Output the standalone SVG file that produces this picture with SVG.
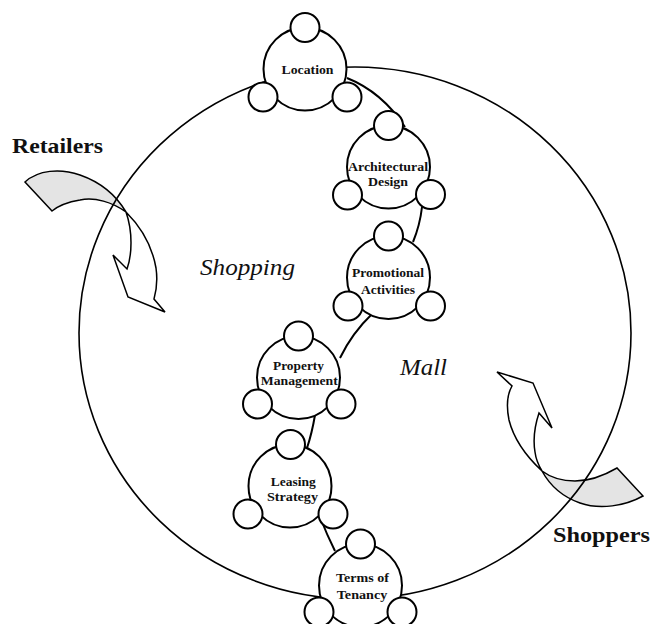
<svg xmlns="http://www.w3.org/2000/svg" width="653" height="624" viewBox="0 0 653 624">
<defs>
<style>
.bg{fill:#ffffff}
.ring{fill:none;stroke:#000;stroke-width:1.6}
.conn{fill:none;stroke:#000;stroke-width:2}
.main{fill:#fff;stroke:#000;stroke-width:2}
.sm{fill:#fff;stroke:#000;stroke-width:2}
.arw{fill:#fff;stroke:#000;stroke-width:1.5;stroke-linejoin:miter}
.arg{fill:#e4e4e4;stroke:#000;stroke-width:1.5}
.lbl{font-family:"Liberation Serif","Times New Roman",serif;font-weight:bold;font-size:13.5px;fill:#111;text-anchor:middle}
.big{font-family:"Liberation Serif","Times New Roman",serif;font-weight:bold;font-size:21px;fill:#111}
.it{font-family:"Liberation Serif","Times New Roman",serif;font-style:italic;font-size:24px;fill:#111}
</style>
</defs>
<rect class="bg" x="0" y="0" width="653" height="624"/>
<g id="retailers-arrow">
<path class="arw" d="M126,212 C140,226 152,245 156,268 C158,282 156,292 154,299 L165,312 L128,297 L113,255 L127,269 C132,255 133,232 126,212 Z"/>
<path class="arg" d="M25,182 C38,170 60,168 80,175 C100,182 116,195 126,212 C112,202 95,197 80,200 C68,202 58,206 52,211 Z"/>
</g>
<g id="shoppers-arrow">
<path class="arw" d="M542,471 C528,458 514,440 509,420 C506,405 508,393 512,386 L497,372 L533,383 L552,428 L539,413 C535,425 533,440 535,452 C536,460 539,466 542,471 Z"/>
<path class="arg" d="M617,468 C605,475 590,481 575,481 C562,481 550,477 542,471 C548,482 560,496 580,503 C600,510 625,506 643,496 Z"/>
</g>
<g id="mall-ring">
<ellipse class="ring" cx="355" cy="333" rx="276" ry="266"/>
</g>
<g id="connectors">
<path class="conn" d="M347,78 Q382,92 405,127"/>
<path class="conn" d="M422,207 Q420,225 413,242"/>
<path class="conn" d="M373,313 Q352,333 340,358"/>
<path class="conn" d="M315,415 Q312,433 307,448"/>
<path class="conn" d="M320,517 Q327,535 335,551"/>
</g>
<g id="node-location">
<circle class="main" cx="305" cy="69" r="41.5"/>
<circle class="sm" cx="305" cy="27.5" r="14.5"/>
<circle class="sm" cx="263" cy="97" r="14.5"/>
<circle class="sm" cx="347" cy="97" r="14.5"/>
<text class="lbl" x="307.5" y="74" textLength="52" lengthAdjust="spacingAndGlyphs">Location</text>
</g>
<g id="node-architectural">
<circle class="main" cx="388.5" cy="167" r="41.5"/>
<circle class="sm" cx="388.5" cy="125.5" r="14.5"/>
<circle class="sm" cx="347.5" cy="195" r="14.5"/>
<circle class="sm" cx="430.5" cy="194.5" r="14.5"/>
<text class="lbl" x="388" y="170.5" textLength="80" lengthAdjust="spacingAndGlyphs">Architectural</text>
<text class="lbl" x="388" y="186" textLength="40" lengthAdjust="spacingAndGlyphs">Design</text>
</g>
<g id="node-promotional">
<circle class="main" cx="388.5" cy="277.5" r="41.5"/>
<circle class="sm" cx="388.5" cy="236" r="14.5"/>
<circle class="sm" cx="348" cy="306" r="14.5"/>
<circle class="sm" cx="430.5" cy="306" r="14.5"/>
<text class="lbl" x="388" y="276.5" textLength="72" lengthAdjust="spacingAndGlyphs">Promotional</text>
<text class="lbl" x="388" y="294" textLength="54" lengthAdjust="spacingAndGlyphs">Activities</text>
</g>
<g id="node-property">
<circle class="main" cx="298.5" cy="377.5" r="41.5"/>
<circle class="sm" cx="298.5" cy="336" r="14.5"/>
<circle class="sm" cx="257.5" cy="404" r="14.5"/>
<circle class="sm" cx="341" cy="404" r="14.5"/>
<text class="lbl" x="298.5" y="370" textLength="51" lengthAdjust="spacingAndGlyphs">Property</text>
<text class="lbl" x="299.3" y="385" textLength="77" lengthAdjust="spacingAndGlyphs">Management</text>
</g>
<g id="node-leasing">
<circle class="main" cx="290" cy="486" r="41.5"/>
<circle class="sm" cx="290.5" cy="444.5" r="14.5"/>
<circle class="sm" cx="248" cy="514" r="14.5"/>
<circle class="sm" cx="333" cy="514" r="14.5"/>
<text class="lbl" x="293.3" y="486" textLength="45" lengthAdjust="spacingAndGlyphs">Leasing</text>
<text class="lbl" x="292.5" y="501" textLength="51" lengthAdjust="spacingAndGlyphs">Strategy</text>
</g>
<g id="node-terms">
<circle class="main" cx="360.5" cy="585.5" r="41.5"/>
<circle class="sm" cx="360.5" cy="544" r="14.5"/>
<circle class="sm" cx="319" cy="612" r="14.5"/>
<circle class="sm" cx="402" cy="612" r="14.5"/>
<text class="lbl" x="362.5" y="582" textLength="53" lengthAdjust="spacingAndGlyphs">Terms of</text>
<text class="lbl" x="362" y="599" textLength="50.5" lengthAdjust="spacingAndGlyphs">Tenancy</text>
</g>
<g id="labels">
<text class="big" x="12" y="153" textLength="91" lengthAdjust="spacingAndGlyphs">Retailers</text>
<text class="big" x="553" y="541.5" textLength="97" lengthAdjust="spacingAndGlyphs">Shoppers</text>
<text class="it" x="200" y="275" textLength="95" lengthAdjust="spacingAndGlyphs">Shopping</text>
<text class="it" x="400" y="375" textLength="47" lengthAdjust="spacingAndGlyphs">Mall</text>
</g>
</svg>
